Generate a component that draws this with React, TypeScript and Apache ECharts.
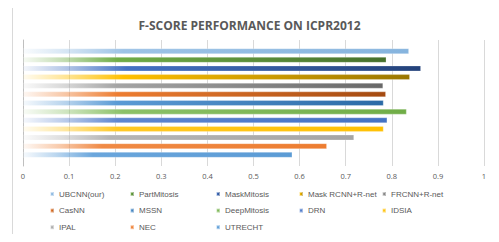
import React, { useEffect, useRef } from "react";
import * as echarts from "echarts";

const methods = [
  "UBCNN(our)", "PartMitosis", "MaskMitosis", "Mask RCNN+R-net", "FRCNN+R-net",
  "CasNN", "MSSN", "DeepMitosis", "DRN", "IDSIA", "IPAL", "NEC", "UTRECHT",
];
const fScores = [0.837, 0.788, 0.863, 0.839, 0.781, 0.787, 0.782, 0.832, 0.79, 0.782, 0.718, 0.659, 0.584];
const xTicks = [0, 0.1, 0.2, 0.3, 0.4, 0.5, 0.6, 0.7, 0.8, 0.9, 1];
const categoryName = ["F-score"];

// styles
const midColors = ["#9DC3E6", "#70AD47", "#4472C4", "#FFC000", "#A5A5A5", "#ED7D31", "#5B9BD5", "#8CC168", "#5E86D0", "#FFC823", "#B5B5B5", "#F08A45", "#6AA6DC"];
const endColors = ["#86B4DE", "#46702C", "#24427A", "#9A7600", "#686868", "#A44A10", "#2B6AA6", "#70AD47", "#4472C4", "#FFC000", "#A5A5A5", "#ED7D31", "#5B9BD5"];

const legendColumns = [
  ["UBCNN(our)", "CasNN", "IPAL"],
  ["PartMitosis", "MSSN", "NEC"],
  ["MaskMitosis", "DeepMitosis", "UTRECHT"],
  ["Mask RCNN+R-net", "DRN"],
  ["FRCNN+R-net", "IDSIA"],
];
const legendLeft = [49, 129, 215, 298, 381];

const FONT = "'Open Sans', 'Liberation Sans', sans-serif";
const LEG = "'Liberation Sans', sans-serif";

export default function App() {
  const ref = useRef<HTMLDivElement>(null);
  useEffect(() => {
    if (!ref.current) return;
    const chart = echarts.init(ref.current, undefined, { renderer: "svg" });
    const series = methods.map((name, i) => ({
      name,
      type: "bar",
      data: [fScores[i]],
      barWidth: 5.5,
      barGap: "57%",
      itemStyle: {
        color: new echarts.graphic.LinearGradient(0, 0, 1, 0, [
          { offset: 0, color: echarts.color.modifyAlpha(midColors[i], 0.06) },
          { offset: 0.12, color: echarts.color.modifyAlpha(midColors[i], 0.45) },
          { offset: 0.26, color: midColors[i] },
          { offset: 1, color: endColors[i] },
        ]),
        borderColor: "rgba(255,255,255,0.5)",
        borderWidth: 0.5,
      },
      emphasis: { disabled: true },
    }));
    chart.setOption({
      animation: false,
      textStyle: { fontFamily: FONT },
      title: {
        text: "F-SCORE PERFORMANCE ON ICPR2012",
        left: "center",
        top: 14,
        textStyle: { fontSize: 12, fontWeight: "bold", color: "#595959", fontFamily: FONT },
      },
      graphic: [
        {
          type: "rect",
          shape: { x: 12.5, y: 6.5, width: 481, height: 228 },
          style: { fill: "none", stroke: "#D9D9D9", lineWidth: 1 },
          silent: true,
        },
      ],
      legend: legendColumns.map((col, c) => ({
        data: col,
        orient: "vertical",
        left: legendLeft[c],
        top: 188.5,
        itemWidth: 4,
        itemHeight: 4,
        itemGap: 5.6,
        icon: "rect",
        selectedMode: false,
        padding: 0,
        textStyle: { fontSize: 8, color: "#595959", lineHeight: 11, fontFamily: LEG },
      })),
      grid: { left: 23, right: 15, top: 40, height: 126, containLabel: false },
      xAxis: {
        type: "value",
        min: 0,
        max: 1,
        interval: 0.1,
        axisLine: { show: false },
        axisTick: { show: false },
        splitLine: { lineStyle: { color: "#D9D9D9", width: 1 } },
        axisLabel: {
          color: "#595959",
          fontSize: 7.5,
          margin: 6,
          formatter: (v: number) => {
            const t = xTicks.find((x) => Math.abs(x - v) < 1e-6);
            return t === undefined ? "" : String(t);
          },
        },
      },
      yAxis: {
        type: "category",
        data: categoryName,
        axisLine: { show: true, lineStyle: { color: "#BFBFBF", width: 1 } },
        axisTick: { show: false },
        axisLabel: { show: false },
      },
      series,
    });
    return () => chart.dispose();
  }, []);
  return <div ref={ref} style={{ width: 499, height: 242, margin: -8 }} />;
}
